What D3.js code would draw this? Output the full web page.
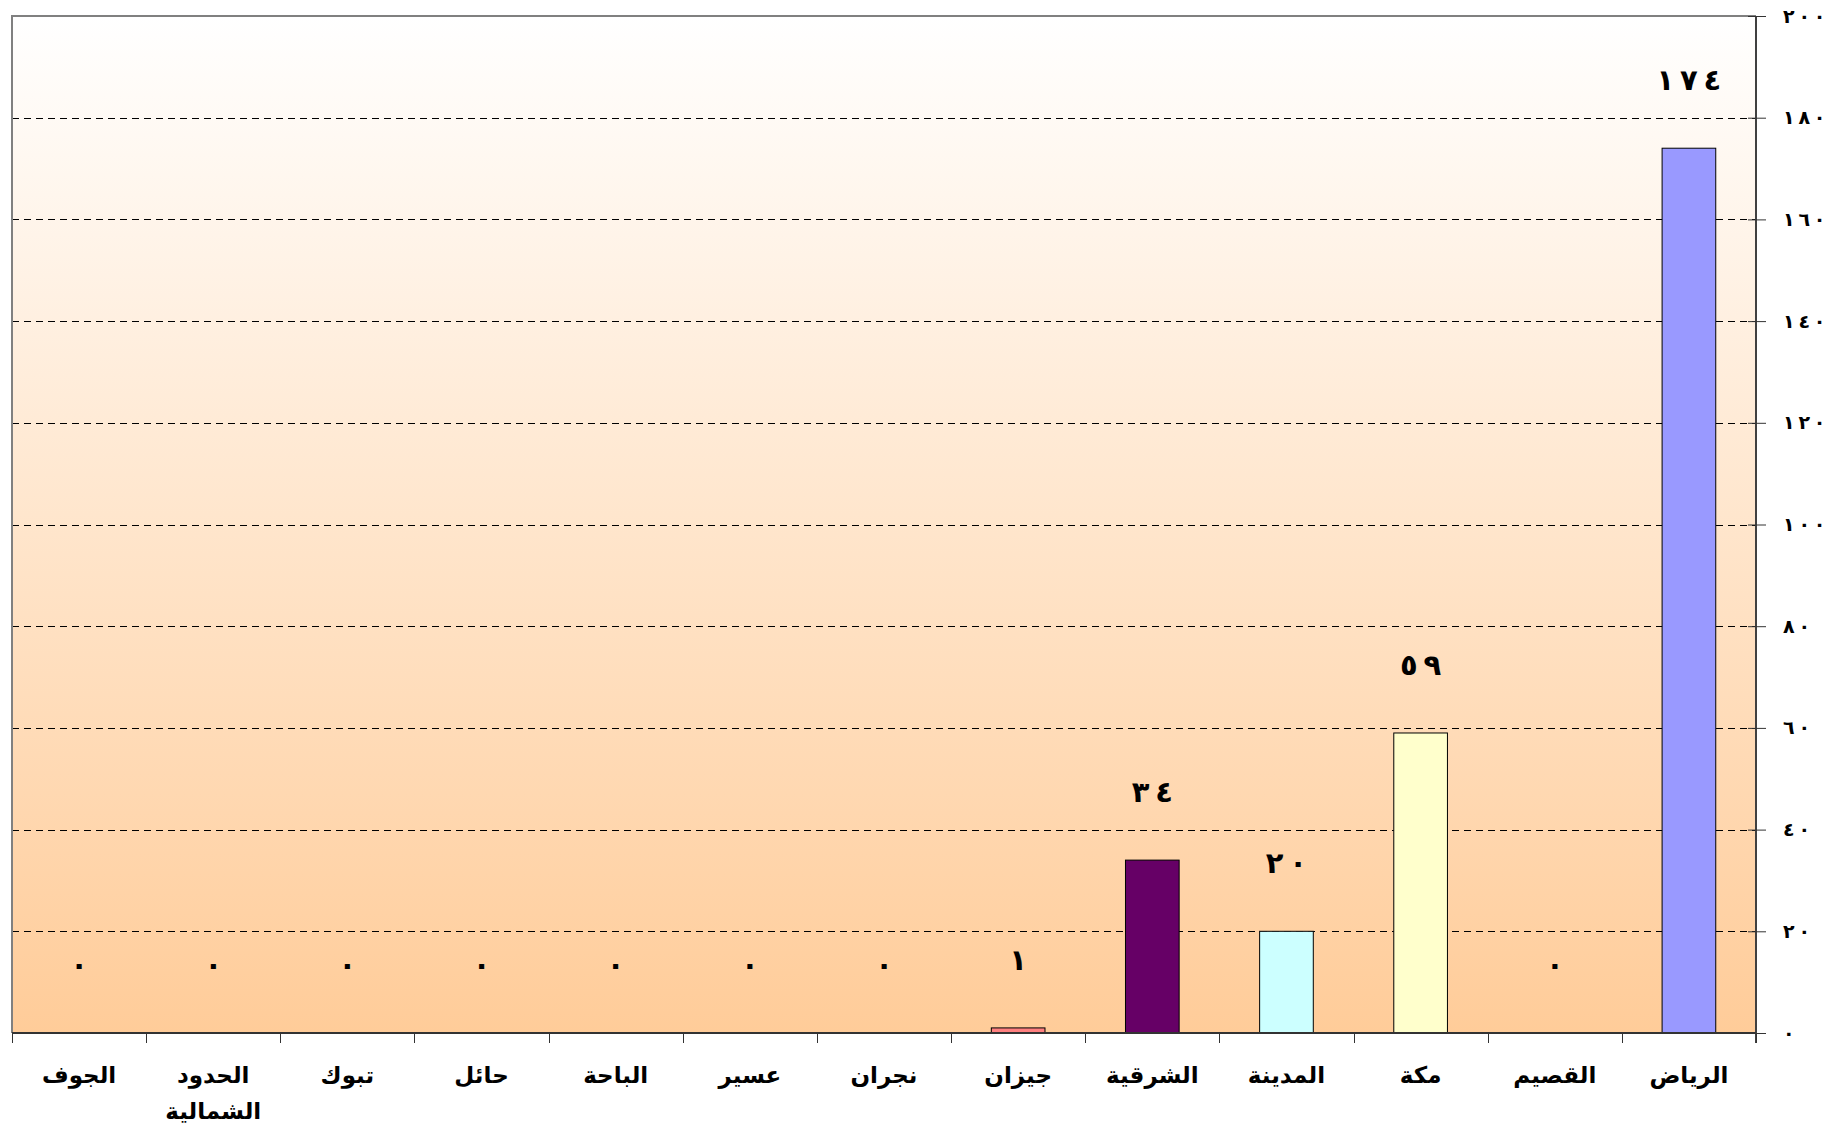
<!DOCTYPE html>
<html>
<head>
<meta charset="utf-8">
<script src="https://cdn.jsdelivr.net/npm/d3@7"></script>
<style>
  html, body { margin: 0; padding: 0; background: #fff; }
  svg { display: block; font-family: "DejaVu Sans", sans-serif; }
</style>
</head>
<body>
<div id="chart"></div>
<script>
// categories in the workbook's order (the axis is drawn reversed, right to left)
const regions = ["الرياض", "القصيم", "مكة", "المدينة", "الشرقية", "جيزان", "نجران",
  "عسير", "الباحة", "حائل", "تبوك", "الحدود الشمالية", "الجوف"];
const counts = [174, 0, 59, 20, 34, 1, 0, 0, 0, 0, 0, 0, 0];
const yTicks = [0, 20, 40, 60, 80, 100, 120, 140, 160, 180, 200];
const palette = ["#9999FF", "#993366", "#FFFFCC", "#CCFFFF", "#660066", "#FF8080",
  "#0066CC", "#CCCCFF", "#000080", "#FF00FF", "#FFFF00", "#00FFFF", "#800080"];

const width = 1843;
const height = 1130;
const margin = { top: 16, right: 87, bottom: 97, left: 12 };

const arabicDigits = "٠١٢٣٤٥٦٧٨٩";
// Arabic-Indic digits, loosely spaced like the original (LRO keeps digit order)
const toArabic = n => "\u202D" + String(n).split("").map(c => arabicDigits[+c]).join("\u2009") + "\u202C";

const data = regions.map((r, i) => ({ region: r, value: counts[i], color: palette[i] }));

const svg = d3.select("#chart").append("svg")
  .attr("width", width)
  .attr("height", height);

const x = d3.scaleBand()
  .domain(regions)
  .range([width - margin.right, margin.left])
  .paddingInner(0.6)
  .paddingOuter(0.3);

const y = d3.scaleLinear()
  .domain([0, 200])
  .range([height - margin.bottom, margin.top]);

const x0 = margin.left, x1 = width - margin.right;
const y0 = height - margin.bottom, y1 = margin.top;

// plot area gradient
const grad = svg.append("defs").append("linearGradient")
  .attr("id", "bg").attr("x1", 0).attr("y1", 0).attr("x2", 0).attr("y2", 1);
grad.append("stop").attr("offset", "0%").attr("stop-color", "#ffffff");
grad.append("stop").attr("offset", "100%").attr("stop-color", "#ffcc99");

svg.append("rect")
  .attr("x", x0).attr("y", y1)
  .attr("width", x1 - x0).attr("height", y0 - y1)
  .attr("fill", "url(#bg)");

// gridlines
svg.append("g")
  .selectAll("line")
  .data(yTicks.filter(t => t > 0 && t < 200))
  .join("line")
  .attr("x1", x0).attr("x2", x1)
  .attr("y1", d => Math.round(y(d)) + 0.5).attr("y2", d => Math.round(y(d)) + 0.5)
  .attr("stroke", "#000")
  .attr("stroke-dasharray", "7,5");

// plot border top / left
svg.append("path")
  .attr("d", `M${x0},${y0}V${y1}H${x1}`)
  .attr("fill", "none")
  .attr("stroke", "#808080")
  .attr("stroke-width", 2);

// bars
svg.append("g")
  .selectAll("rect")
  .data(data.filter(d => d.value > 0))
  .join("rect")
  .attr("x", d => x(d.region))
  .attr("y", d => y(d.value))
  .attr("width", x.bandwidth())
  .attr("height", d => y(0) - y(d.value))
  .attr("fill", d => d.color)
  .attr("stroke", "#000")
  .attr("stroke-width", 1);

// value labels
svg.append("g")
  .selectAll("text")
  .data(data)
  .join("text")
  .attr("x", d => x(d.region) + x.bandwidth() / 2)
  .attr("y", d => y(d.value) - 66)
  .attr("text-anchor", "middle")
  .attr("dominant-baseline", "middle")
  .attr("font-size", 29)
  .attr("font-weight", "bold")
  .text(d => toArabic(d.value));

// y axis on the right
const yAxis = svg.append("g")
  .attr("transform", `translate(${x1},0)`)
  .call(d3.axisRight(y).tickValues(yTicks).tickSize(10).tickPadding(17).tickFormat(toArabic));
yAxis.select(".domain").attr("stroke", "#404040").attr("stroke-width", 2)
  .attr("d", `M0,${y1}V${y0 + 10}`);
yAxis.selectAll(".tick line").attr("x1", -8).attr("stroke", "#333");
yAxis.selectAll(".tick text")
  .attr("font-size", 19)
  .attr("font-weight", "bold")
  .attr("font-family", "DejaVu Sans")
  .attr("fill", "#000");

// x axis
const xAxis = svg.append("g")
  .attr("transform", `translate(0,${y0})`);
xAxis.append("line")
  .attr("x1", x0).attr("x2", x1)
  .attr("stroke", "#333").attr("stroke-width", 2);
const bounds = d3.range(regions.length + 1).map(i => x0 + i * (x1 - x0) / regions.length);
xAxis.selectAll("line.tk")
  .data(bounds)
  .join("line")
  .attr("class", "tk")
  .attr("x1", d => Math.round(d) + 0.5).attr("x2", d => Math.round(d) + 0.5)
  .attr("y1", 0).attr("y2", 10)
  .attr("stroke", "#333");

const xl = xAxis.selectAll("text")
  .data(regions)
  .join("text")
  .attr("x", d => x(d) + x.bandwidth() / 2)
  .attr("y", 50)
  .attr("text-anchor", "middle")
  .attr("font-size", 23)
  .attr("font-weight", "bold")
  .attr("direction", "rtl");
xl.each(function(d) {
  const words = d.split(" ");
  const t = d3.select(this);
  words.forEach((w, i) => {
    t.append("tspan")
      .attr("x", x(d) + x.bandwidth() / 2)
      .attr("dy", i === 0 ? 0 : 36)
      .text(w);
  });
});
</script>
</body>
</html>
